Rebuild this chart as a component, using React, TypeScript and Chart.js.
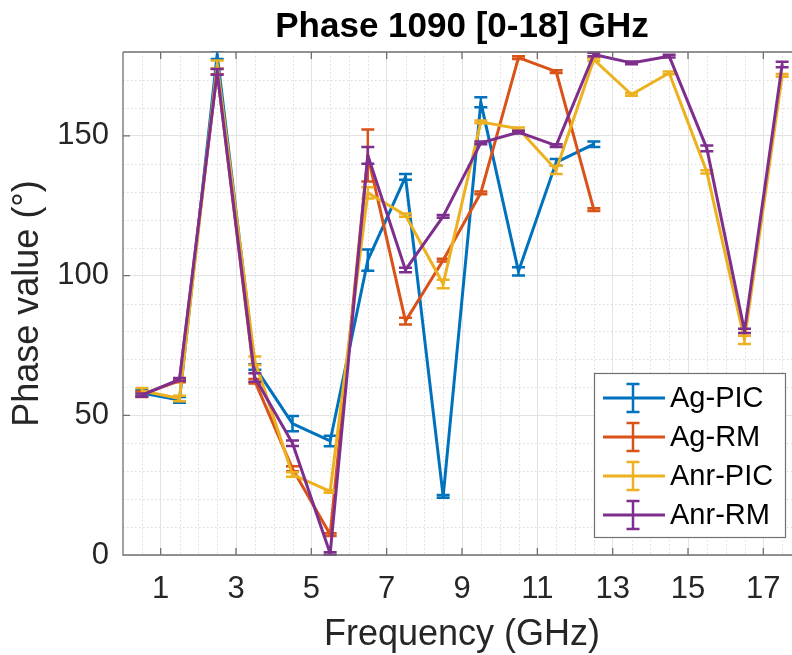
import React, { useEffect, useRef } from 'react';
import { Chart, registerables } from 'chart.js';

Chart.register(...registerables);

// ---------- data ----------
const freqs = [0.5, 1.5, 2.5, 3.5, 4.5, 5.5, 6.5, 7.5, 8.5, 9.5, 10.5, 11.5, 12.5, 13.5, 14.5, 15.5, 16.5, 17.5];
const seriesNames = ['Ag-PIC', 'Ag-RM', 'Anr-PIC', 'Anr-RM'];
const seriesColors = ['#0072BD', '#D95319', '#EDB120', '#7E2F8E'];

const agPIC = [58, 55.5, 179, 67.3, 47, 40.8, 105.5, 135.3, 21, 162, 101.5, 140.5, 147, null, null, null, null, null];
const agPICErr = [1, 1, 1.5, 1, 2.7, 1.9, 3.8, 1, 0.5, 1.8, 1.5, 1.2, 1, 0, 0, 0, 0, 0];

const agRM = [57.5, 62.3, 173, 62.2, 30.9, 7.3, 143, 83.7, 105.5, 129.6, 178, 173, 123.6, null, null, null, null, null];
const agRMErr = [1, 0.5, 1, 0.8, 0.9, 0.5, 9.3, 1.2, 0.5, 0.5, 0.5, 0.5, 0.5, 0, 0, 0, 0, 0];

const anrPIC = [58.8, 56, 175.5, 69.5, 28.8, 22.8, 129.6, 121.6, 97, 155, 152.5, 137.8, 177.3, 164.8, 172.5, 137.1, 77, 171.6];
const anrPICErr = [1, 1, 1.5, 1.5, 0.8, 0.5, 2, 0.6, 1.5, 0.5, 0.5, 1.5, 0.5, 0.5, 0.5, 0.6, 1.5, 0.5];

const anrRM = [57.2, 62.8, 172.9, 63.5, 40, 0.5, 143, 102, 121.2, 147.5, 151.3, 146.5, 179.1, 176.1, 178.5, 145.5, 80.2, 175.5];
const anrRMErr = [0.6, 0.5, 1, 1.5, 1, 0.5, 3, 0.8, 0.5, 0.5, 0.5, 0.5, 0.6, 0.5, 0.5, 1, 0.8, 1];

const seriesValues = [agPIC, agRM, anrPIC, anrRM];
const seriesErrors = [agPICErr, agRMErr, anrPICErr, anrRMErr];

const xTicks = [1, 3, 5, 7, 9, 11, 13, 15, 17];
const yTicks = [0, 50, 100, 150];
const xMinorStep = 0.5;
const yMinorStep = 10;

const titleText = 'Phase 1090 [0-18] GHz';
const xTitle = 'Frequency (GHz)';
const yTitle = 'Phase value (°)';

const FONT = "'Liberation Sans', Arial, Helvetica, sans-serif";
const TEXT = '#262626';

// ---------- plugin ----------
const decorPlugin = {
  id: 'decor',
  beforeDatasetsDraw(chart: any) {
    const { ctx, chartArea: a, scales } = chart;
    const x = scales.x, y = scales.y;
    ctx.save();
    ctx.beginPath();
    ctx.rect(a.left, a.top, a.right - a.left, a.bottom - a.top);
    ctx.clip();
    ctx.strokeStyle = '#dcdcdc';
    ctx.lineWidth = 1;
    ctx.setLineDash([1.5, 2.5]);
    for (let v = xMinorStep; v < x.max; v += xMinorStep) {
      if (xTicks.includes(v)) continue;
      const px = Math.round(x.getPixelForValue(v)) + 0.5;
      ctx.beginPath();
      ctx.moveTo(px, a.top);
      ctx.lineTo(px, a.bottom);
      ctx.stroke();
    }
    for (let v = yMinorStep; v < y.max; v += yMinorStep) {
      if (yTicks.includes(v)) continue;
      const py = Math.round(y.getPixelForValue(v)) + 0.5;
      ctx.beginPath();
      ctx.moveTo(a.left, py);
      ctx.lineTo(a.right, py);
      ctx.stroke();
    }
    ctx.restore();
  },
  afterDatasetDraw(chart: any, args: any) {
    const { ctx, chartArea: a, scales } = chart;
    const x = scales.x, y = scales.y;
    const idx = args.index;
    const vals = seriesValues[idx];
    const errs = seriesErrors[idx];
    ctx.save();
    ctx.beginPath();
    ctx.rect(a.left, a.top - 1, a.right - a.left, a.bottom - a.top + 2);
    ctx.clip();
    ctx.strokeStyle = seriesColors[idx];
    ctx.lineWidth = 2.5;
    ctx.lineCap = 'butt';
    for (let i = 0; i < freqs.length; i++) {
      const v = vals[i];
      if (v === null || v === undefined) continue;
      const e = errs[i];
      const px = x.getPixelForValue(freqs[i]);
      const p1 = y.getPixelForValue(v + e);
      const p2 = y.getPixelForValue(v - e);
      ctx.beginPath();
      ctx.moveTo(px, p1);
      ctx.lineTo(px, p2);
      ctx.moveTo(px - 6.5, p1);
      ctx.lineTo(px + 6.5, p1);
      ctx.moveTo(px - 6.5, p2);
      ctx.lineTo(px + 6.5, p2);
      ctx.stroke();
    }
    ctx.restore();
  },
  afterDatasetsDraw(chart: any) {
    const { ctx, chartArea: a, scales } = chart;
    const x = scales.x, y = scales.y;
    ctx.save();
    ctx.strokeStyle = '#6f6f6f';
    ctx.lineWidth = 1.3;
    ctx.beginPath();
    ctx.moveTo(a.left, a.top);
    ctx.lineTo(a.right, a.top);
    ctx.moveTo(a.left, a.top);
    ctx.lineTo(a.left, a.bottom);
    ctx.lineTo(a.right, a.bottom);
    ctx.lineTo(a.right, a.top);
    for (const v of xTicks) {
      const px = x.getPixelForValue(v);
      ctx.moveTo(px, a.bottom);
      ctx.lineTo(px, a.bottom - 7);
      ctx.moveTo(px, a.top);
      ctx.lineTo(px, a.top + 7);
    }
    for (const v of yTicks) {
      const py = y.getPixelForValue(v);
      ctx.moveTo(a.left, py);
      ctx.lineTo(a.left + 7, py);
      ctx.moveTo(a.right, py);
      ctx.lineTo(a.right - 7, py);
    }
    ctx.stroke();
    ctx.restore();
  },
  afterDraw(chart: any) {
    const { ctx, chartArea: a } = chart;
    ctx.save();
    // title
    ctx.fillStyle = '#000';
    ctx.font = `bold 35px ${FONT}`;
    ctx.textAlign = 'center';
    ctx.textBaseline = 'alphabetic';
    ctx.fillText(titleText, (a.left + a.right) / 2, 37);

    // legend
    const bw = 191, bh = 164;
    const bx = a.right - 16 - bw;
    const by = a.bottom - 18 - bh;
    ctx.fillStyle = '#ffffff';
    ctx.fillRect(bx, by, bw, bh);
    ctx.strokeStyle = '#707070';
    ctx.lineWidth = 1.2;
    ctx.strokeRect(bx + 0.5, by + 0.5, bw, bh);
    ctx.font = `29px ${FONT}`;
    ctx.textAlign = 'left';
    ctx.textBaseline = 'middle';
    for (let i = 0; i < seriesNames.length; i++) {
      const cy = by + 25 + i * 39;
      ctx.strokeStyle = seriesColors[i];
      ctx.lineWidth = 3;
      ctx.beginPath();
      ctx.moveTo(bx + 9, cy);
      ctx.lineTo(bx + 71, cy);
      ctx.stroke();
      ctx.lineWidth = 2.5;
      const cx = bx + 39;
      ctx.beginPath();
      ctx.moveTo(cx, cy - 14);
      ctx.lineTo(cx, cy + 14);
      ctx.moveTo(cx - 6.5, cy - 14);
      ctx.lineTo(cx + 6.5, cy - 14);
      ctx.moveTo(cx - 6.5, cy + 14);
      ctx.lineTo(cx + 6.5, cy + 14);
      ctx.stroke();
      ctx.fillStyle = '#000';
      ctx.fillText(seriesNames[i], bx + 76, cy + 1);
    }
    ctx.restore();
  },
};

export default function App() {
  const ref = useRef<HTMLCanvasElement | null>(null);

  useEffect(() => {
    if (!ref.current) return;
    const datasets = seriesNames.map((name, k) => ({
      label: name,
      data: freqs.map((f, i) => ({ x: f, y: seriesValues[k][i] })),
      borderColor: seriesColors[k],
      backgroundColor: seriesColors[k],
      borderWidth: 3,
      borderJoinStyle: 'round',
      pointRadius: 0,
      pointHoverRadius: 0,
      tension: 0,
      fill: false,
      spanGaps: false,
      order: seriesNames.length - k,
    }));

    const chart = new Chart(ref.current, {
      type: 'line',
      data: { datasets },
      options: {
        animation: false,
        responsive: true,
        maintainAspectRatio: false,
        devicePixelRatio: 1,
        events: [],
        layout: { padding: { top: 52, right: 9, left: 0, bottom: 0 } },
        plugins: {
          legend: { display: false },
          title: { display: false },
          tooltip: { enabled: false },
        },
        scales: {
          x: {
            type: 'linear',
            min: 0,
            max: 18,
            afterBuildTicks: (s: any) => {
              s.ticks = xTicks.map((v) => ({ value: v }));
            },
            afterFit: (s: any) => {
              s.height = 100;
            },
            grid: { color: '#e3e3e3', lineWidth: 1, drawTicks: false },
            border: { display: false },
            ticks: {
              font: { family: FONT, size: 31 },
              color: TEXT,
              padding: 16,
              maxRotation: 0,
              autoSkip: false,
              callback: (v: any) => String(v),
            },
            title: {
              display: true,
              text: xTitle,
              font: { family: FONT, size: 36 },
              color: TEXT,
              padding: { top: 0, bottom: -2 },
            },
          },
          y: {
            type: 'linear',
            min: 0,
            max: 180,
            afterBuildTicks: (s: any) => {
              s.ticks = yTicks.map((v) => ({ value: v }));
            },
            afterFit: (s: any) => {
              s.width = 123;
            },
            grid: { color: '#e3e3e3', lineWidth: 1, drawTicks: false },
            border: { display: false },
            ticks: {
              font: { family: FONT, size: 31 },
              color: TEXT,
              padding: 14,
              callback: (v: any) => String(v),
            },
            title: {
              display: true,
              text: yTitle,
              font: { family: FONT, size: 36 },
              color: TEXT,
              padding: { top: 6, bottom: 0 },
            },
          },
        },
      },
      plugins: [decorPlugin],
    } as any);
    return () => chart.destroy();
  }, []);

  return (
    <div
      style={{
        position: 'fixed',
        left: 0,
        top: 0,
        width: 792,
        height: 655,
        overflow: 'hidden',
        background: '#ffffff',
      }}
    >
      <div style={{ position: 'absolute', left: 0, top: 0, width: 810, height: 655 }}>
        <canvas ref={ref} />
      </div>
    </div>
  );
}
